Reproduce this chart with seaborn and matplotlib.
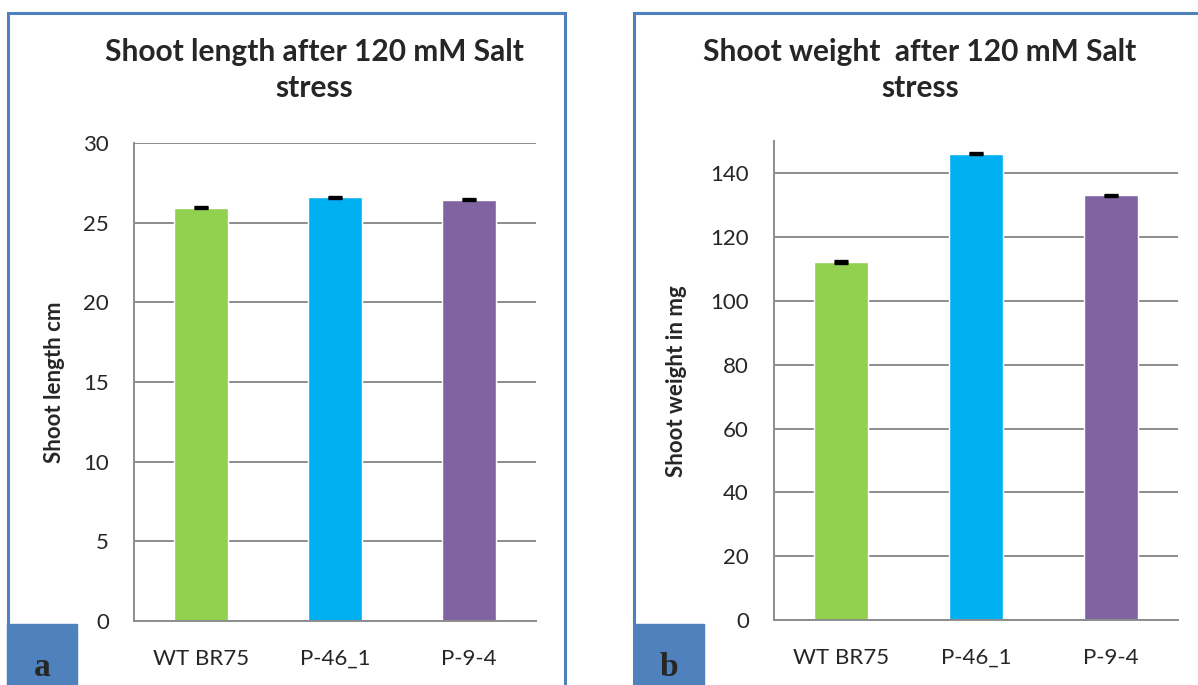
import seaborn as sns
import matplotlib.pyplot as plt
import pandas as pd
from matplotlib.patches import Rectangle

lines = ["WT BR75", "P-46_1", "P-9-4"]
length_means = [25.95, 26.6, 26.45]
length_err = [0.04, 0.04, 0.04]
weight_means = [112.3, 146.2, 133.1]
weight_err = [0.25, 0.25, 0.25]
bar_colors = ["#92D050", "#00B0F0", "#8064A2"]

sns.set_theme(style="white")
plt.rcParams["font.family"] = ["Lato", "DejaVu Sans"]

fig = plt.figure(figsize=(11.98, 6.85), dpi=100)

# panel frames (blue borders like the source figure)
for x0, x1 in [(8, 565), (634, 1205)]:
    fig.patches.append(Rectangle((x0 / 1198, -0.01), (x1 - x0) / 1198, 1 - 13 / 685 + 0.01,
                                 transform=fig.transFigure, fill=False,
                                 edgecolor="#4F81BD", linewidth=2.2, zorder=0))


def panel(rect, means, errs, ymax, step, ylabel, label_x, title, title_x, letter, box_x):
    ax = fig.add_axes(rect)
    df = pd.DataFrame({"line": lines, "value": means})
    sns.barplot(data=df, x="line", y="value", hue="line", palette=bar_colors,
                width=0.4, errorbar=None, legend=False, ax=ax, saturation=1)
    ax.errorbar(range(len(lines)), means, yerr=errs, fmt="none", ecolor="black",
                elinewidth=2.2, capsize=5, capthick=2.4, zorder=5)
    ax.set_xlim(-0.5, 2.5)
    ax.set_ylim(0, ymax)
    ax.set_yticks(range(0, ymax + 1, step))
    ax.yaxis.grid(True, color="#8C8C8C", linewidth=1.4)
    ax.set_axisbelow(True)
    for s in ["top", "right"]:
        ax.spines[s].set_visible(False)
    for s in ["left", "bottom"]:
        ax.spines[s].set_color("#8C8C8C")
        ax.spines[s].set_linewidth(1.4)
    ax.tick_params(axis="y", length=6, color="#8C8C8C", width=1.4, labelsize=16, pad=12)
    ax.tick_params(axis="x", length=0, labelsize=16, pad=20)
    ax.set_xlabel("")
    ax.set_ylabel(ylabel, fontsize=16, fontweight="bold")
    ax.yaxis.set_label_coords(label_x, 0.5)
    fig.text(title_x / 1198, 1 - 70 / 685, title, ha="center", va="center",
             fontsize=21.5, fontweight="bold", linespacing=1.35)
    fig.patches.append(Rectangle((box_x / 1198, 0), 70 / 1198, 61 / 685,
                                 transform=fig.transFigure, facecolor="#4F81BD",
                                 edgecolor="#4F81BD", zorder=3))
    fig.text((box_x + 35) / 1198, 9 / 685, letter, ha="center", va="baseline",
             fontsize=24, fontweight="bold", family="Liberation Serif", zorder=4)
    return ax


panel([134 / 1198, 1 - 621 / 685, 402 / 1198, 478 / 685], length_means, length_err,
      30, 5, "Shoot length cm", -0.172,
      "Shoot length after 120 mM Salt\nstress", 314, "a", 7)
panel([774 / 1198, 1 - 620 / 685, 404 / 1198, 478.5 / 685], weight_means, weight_err,
      150, 20, "Shoot weight in mg", -0.215,
      "Shoot weight  after 120 mM Salt\nstress", 920, "b", 634)

fig.savefig("out.png", dpi=100)
